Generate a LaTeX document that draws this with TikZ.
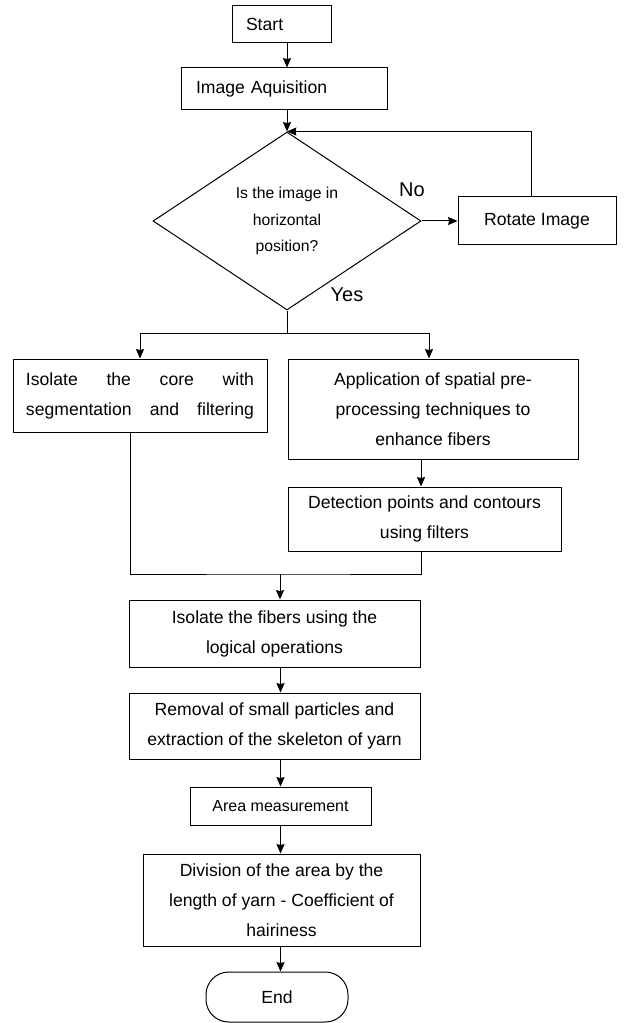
\documentclass[tikz,border=0pt]{standalone}
\usepackage{fontspec}
\setmainfont{Liberation Sans}
\usetikzlibrary{shapes.geometric,arrows.meta}
\tikzset{
	box/.style={draw,rectangle,inner sep=0pt,align=center,font=\fontsize{13.2}{22.5}\selectfont},
	lbl/.style={inner sep=0pt,font=\fontsize{15}{18}\selectfont}
}
\begin{document}
\begin{tikzpicture}[x=0.75pt,y=-0.75pt,line width=0.75pt,>={Stealth[length=7pt,width=6pt,inset=0.6pt]}]
			\useasboundingbox (0,0) rectangle (624,1023);
			\node[box,minimum width=74.25pt,minimum height=27.75pt,text width=53.25pt,align=left,inner xsep=10.5pt] (start) at (281.5,24.5) {Start};
			\node[box,minimum width=154.5pt,minimum height=31.5pt,text width=132pt,align=left,inner xsep=11.25pt] (acq) at (284,89) {Image Aquisition};
			\node[draw,diamond,shape aspect=1.5,minimum width=201pt,minimum height=133.5pt,inner sep=0pt,align=center,font=\fontsize{11.8}{20}\selectfont] (dia) at (287,221) {Is the image in\\horizontal\\position?};
			\node[box,minimum width=118.5pt,minimum height=36pt] (rot) at (537,221) {Rotate Image};
			\node[lbl] (no) at (412,190) {No};
			\node[lbl] (yes) at (347,295) {Yes};
			\node[box,minimum width=190.5pt,minimum height=54.75pt,text width=171pt,align=left,inner xsep=9.75pt] (core) at (140,395.5) {Isolate\hfill the\hfill core\hfill with\\segmentation\hfill and\hfill filtering};
			\node[box,minimum width=217.5pt,minimum height=75pt] (app) at (433,409) {Application of spatial pre-\\processing techniques to\\enhance fibers};
			\node[box,minimum width=204.75pt,minimum height=48pt] (det) at (424.5,519) {Detection points and contours\\using filters};
			\node[box,minimum width=218.25pt,minimum height=50.25pt] (fib) at (274.5,633.5) {Isolate the fibers using the\\logical operations};
			\node[box,minimum width=218.25pt,minimum height=49.5pt] (rem) at (274.5,726) {Removal of small particles and\\extraction of the skeleton of yarn};
			\node[box,minimum width=135.75pt,minimum height=28.5pt,font=\fontsize{12}{14}\selectfont] (area) at (280.5,806) {Area measurement};
			\node[box,minimum width=207.75pt,minimum height=69pt] (div) at (281.5,900) {Division of the area by the\\length of yarn - Coefficient of\\hairiness};
			\node[box,rounded corners=17pt,minimum width=106.5pt,minimum height=37.5pt] (end) at (277,997) {End};
			\coordinate (split) at (287,333);
			\coordinate (join) at (280,574);
			\path[->]
			(start.south -| dia.north) edge (acq.north -| dia.north)
			(acq.south -| dia.north) edge (dia.north)
			(dia.east) edge (rot.west)
			([xshift=-2.6pt]det.north |- app.south) edge ([xshift=-2.6pt]det.north)
			(fib.south -| area.north) edge (rem.north -| area.north)
			(rem.south -| area.north) edge (area.north)
			(area.south) edge (div.north -| area.south)
			(div.south -| area.north) edge (end.north -| area.north)
			;
			\draw[->] ([xshift=-4.5pt]rot.north) |- (dia.north);
			\draw (dia.south) -- (split);
			\draw[->] (split) -| (core.north);
			\draw[->] (split) -| ([xshift=-3pt]app.north);
			\draw ([xshift=-7.5pt]core.south) |- (join) -| ([xshift=-2.6pt]det.south);
			\draw[->] (join) -- (fib.north -| join);
		\end{tikzpicture}
\end{document}
